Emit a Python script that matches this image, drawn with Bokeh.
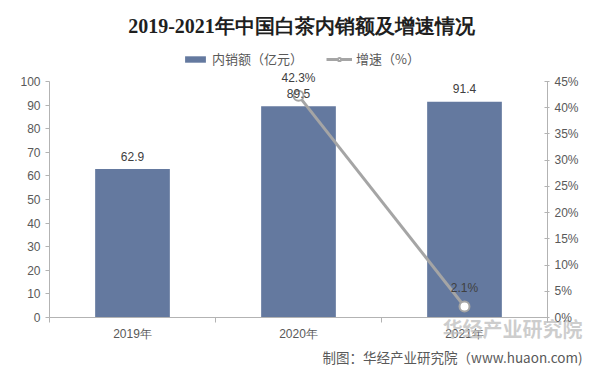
from bokeh.plotting import figure
from bokeh.models import (ColumnDataSource, Range1d, LinearAxis, FixedTicker,
                          PrintfTickFormatter, LabelSet, Label, Legend, LegendItem, Title)
from bokeh.core.properties import value
from bokeh.embed import file_html
from bokeh.resources import INLINE
import numpy as np

# ---- data ----
years = ["2019年", "2020年", "2021年"]
sales = [62.9, 89.5, 91.4]          # 内销额（亿元）
growth = [np.nan, 42.3, 2.1]        # 增速（%）
y_ticks = [0, 10, 20, 30, 40, 50, 60, 70, 80, 90, 100]
pct_ticks = [0, 5, 10, 15, 20, 25, 30, 35, 40, 45]

title_text = "2019-2021年中国白茶内销额及增速情况"
footer_text = "制图：华经产业研究院（www.huaon.com)"
watermark_text = "华经产业研究院"

BAR = "#64799F"
LINE = "#A5A5A5"
AX = "#B3B3B3"
TXT = "#595959"
SANS = "Liberation Sans"
CJK = "Noto Sans CJK SC"

# ---- layout constants (pixels) ----
W, H = 584, 368
BORDER_L, BORDER_R, BORDER_B = 49, 37, 51
FRAME_H = H - BORDER_B           # frame reaches the top of the canvas
AXIS_H = 236                     # pixel height of the 0..100 axis
y_max = max(y_ticks)
p_max = max(pct_ticks)
y_top = y_max * FRAME_H / AXIS_H
p_top = p_max * FRAME_H / AXIS_H

xs = list(np.arange(len(years)) + 0.5)
src = ColumnDataSource(dict(x=xs, sales=sales, sales_lbl=[f"{v}" for v in sales]))
gsrc = ColumnDataSource(dict(x=xs[1:], growth=growth[1:],
                             growth_lbl=[f"{v}%" for v in growth[1:]]))

p = figure(width=W, height=H, output_backend="svg", toolbar_location=None,
           x_range=Range1d(0, len(years)), y_range=Range1d(0, y_top))
p.min_border_left = BORDER_L
p.min_border_right = BORDER_R
p.min_border_top = 0
p.min_border_bottom = BORDER_B
p.extra_y_ranges = {"pct": Range1d(0, p_top)}
p.xgrid.visible = False
p.ygrid.visible = False
p.outline_line_color = None
p.background_fill_color = "white"
p.border_fill_color = "white"

bars = p.vbar(x="x", top="sales", width=0.45, source=src, fill_color=BAR, line_color=None)
ln = p.line(x="x", y="growth", source=gsrc, y_range_name="pct", line_color=LINE, line_width=3)
pts = p.scatter(x="x", y="growth", source=gsrc, y_range_name="pct", size=10,
                fill_color="white", line_color=LINE, line_width=2)

# axes
xa = p.xaxis[0]
xa.ticker = FixedTicker(ticks=xs, minor_ticks=list(range(len(years) + 1)))
xa.major_label_overrides = {x: y for x, y in zip(xs, years)}
xa.major_tick_line_color = None
xa.major_tick_out = 0
xa.major_tick_in = 0
xa.minor_tick_line_color = AX
xa.minor_tick_out = 5
xa.minor_tick_in = 0
xa.axis_line_color = AX
xa.major_label_text_font = SANS
xa.major_label_text_font_size = "12px"
xa.major_label_text_color = TXT
xa.major_label_standoff = 4

ya = p.yaxis[0]
ya.ticker = FixedTicker(ticks=y_ticks)
ya.bounds = (0, y_max)
ya.axis_line_color = AX
ya.major_tick_line_color = AX
ya.major_tick_out = 4
ya.major_tick_in = 0
ya.minor_tick_line_color = None
ya.major_label_text_font = SANS
ya.major_label_text_font_size = "12px"
ya.major_label_text_color = TXT
ya.major_label_standoff = 5

ra = LinearAxis(y_range_name="pct", ticker=FixedTicker(ticks=pct_ticks),
                formatter=PrintfTickFormatter(format="%d%%"), bounds=(0, p_max))
ra.axis_line_color = AX
ra.major_tick_line_color = AX
ra.major_tick_out = 2
ra.major_tick_in = 3
ra.minor_tick_line_color = None
ra.major_label_text_font = SANS
ra.major_label_text_font_size = "12px"
ra.major_label_text_color = TXT
ra.major_label_standoff = 5
p.add_layout(ra, "right")

# watermark as a label-only axis pulled up next to the category labels
wm_x = 2.79
wa = LinearAxis(ticker=FixedTicker(ticks=[wm_x]), major_label_overrides={wm_x: watermark_text})
wa.axis_line_color = None
wa.major_tick_line_color = None
wa.minor_tick_line_color = None
wa.major_tick_out = 0
wa.major_tick_in = 0
wa.major_label_standoff = -30
wa.major_label_text_font = CJK
wa.major_label_text_font_style = "bold"
wa.major_label_text_font_size = "20px"
wa.major_label_text_color = "#BDBDBD"
wa.major_label_text_alpha = 0.75
p.add_layout(wa, "below")

p.add_layout(Title(text=footer_text, align="right", offset=-35, standoff=-2,
                   text_font=CJK, text_font_style="normal", text_font_size="13.5px",
                   text_color=TXT), "below")

# data labels
p.add_layout(LabelSet(x="x", y="sales", text="sales_lbl", source=src, y_offset=13,
                      text_align="center", text_baseline="middle",
                      text_font=value(SANS), text_font_size=value("12px"),
                      text_color="#404040"))
p.add_layout(LabelSet(x="x", y="growth", text="growth_lbl", source=gsrc, y_range_name="pct",
                      y_offset=18, text_align="center", text_baseline="middle",
                      text_font=value(SANS), text_font_size=value("12px"),
                      text_color="#404040"))

# title (inside the frame area, which reaches the top of the canvas)
p.add_layout(Label(x=252, y=292, x_units="screen", y_units="screen", text=title_text,
                   text_align="center", text_baseline="middle",
                   text_font="Liberation Serif", text_font_style="bold",
                   text_font_size="20px", text_color="#1F1F1F"))

legend = Legend(items=[LegendItem(label="内销额（亿元）", renderers=[bars]),
                       LegendItem(label="增速（%）", renderers=[ln, pts])],
                orientation="horizontal", location=(133, 249),
                glyph_width=26, glyph_height=8, label_standoff=4, spacing=23,
                padding=0, margin=0, border_line_color=None, background_fill_alpha=0,
                label_text_font=CJK, label_text_font_size="13px", label_text_color=TXT,
                label_height=16)
p.add_layout(legend, "center")

open("out.html", "w").write(file_html(p, INLINE))
